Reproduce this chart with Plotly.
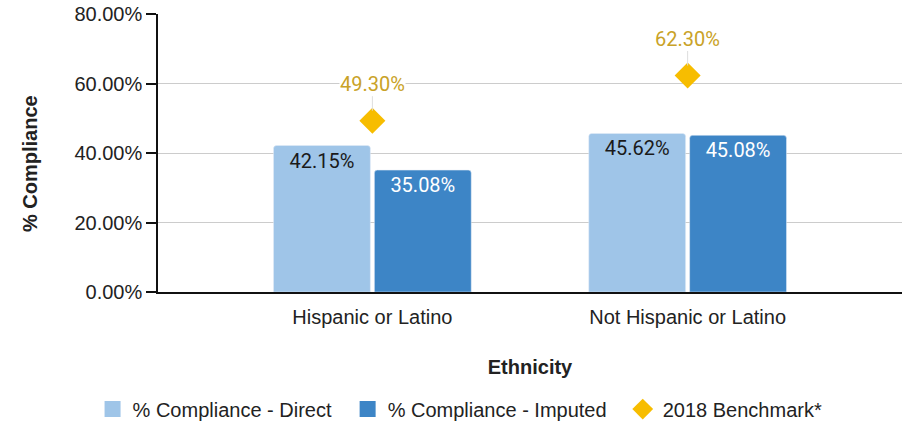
import plotly.graph_objects as go

categories = ["Hispanic or Latino", "Not Hispanic or Latino"]
direct = [42.15, 45.62]
imputed = [35.08, 45.08]
benchmark = [49.30, 62.30]
y_ticks = [0, 20, 40, 60, 80]

C_DIRECT = "#9fc5e8"
C_IMPUTED = "#3d85c6"
C_BENCH = "#f7bd00"
C_BENCH_TXT = "#c9a227"
FS = 20

fig = go.Figure()
fig.add_trace(go.Bar(
    x=categories, y=direct, name="% Compliance - Direct", showlegend=False,
    marker=dict(color=C_DIRECT, cornerradius=3),
    text=[f"{v:.2f}%" for v in direct], textposition="inside",
    insidetextanchor="end", textangle=0,
    textfont=dict(color="#1a1a1a", size=FS, family="Roboto"),
))
fig.add_trace(go.Bar(
    x=categories, y=imputed, name="% Compliance - Imputed", showlegend=False,
    marker=dict(color=C_IMPUTED, cornerradius=3),
    text=[f"{v:.2f}%" for v in imputed], textposition="inside",
    insidetextanchor="end", textangle=0,
    textfont=dict(color="white", size=FS, family="Roboto"),
))
# legend entries with larger square swatches
fig.add_trace(go.Scatter(
    x=[None], y=[None], name="% Compliance - Direct\u00a0\u00a0", mode="markers",
    marker=dict(symbol="square", size=16, color=C_DIRECT),
))
fig.add_trace(go.Scatter(
    x=[None], y=[None], name="% Compliance - Imputed\u00a0\u00a0", mode="markers",
    marker=dict(symbol="square", size=16, color=C_IMPUTED),
))
fig.add_trace(go.Scatter(
    x=categories, y=benchmark, name="2018 Benchmark*", mode="markers",
    marker=dict(symbol="diamond", size=20, color=C_BENCH),
))
for c, v in zip(categories, benchmark):
    fig.add_annotation(
        x=c, y=v, text=f"{v:.2f}%", showarrow=True, arrowhead=0,
        arrowcolor="#dddddd", arrowwidth=1, ax=0, ay=-37, standoff=10,
        font=dict(color=C_BENCH_TXT, size=FS, family="Roboto"),
        bgcolor="white", borderpad=0,
    )

# y-axis title as annotation (sits slightly below plot centre in the reference)
fig.add_annotation(
    text="<b>% Compliance</b>", xref="paper", yref="paper", x=0, y=0.5,
    xshift=-128, yshift=-11, textangle=-90, showarrow=False,
    xanchor="center", yanchor="middle", font=dict(size=FS, color="#222"),
)

fig.update_layout(
    width=908, height=423, barmode="group", bargap=0.36, bargroupgap=0.04,
    margin=dict(l=158, r=6, t=14, b=131, autoexpand=False),
    plot_bgcolor="white", paper_bgcolor="white",
    font=dict(family="Liberation Sans, Arial", size=FS, color="#222"),
    legend=dict(orientation="h", x=0.406, xanchor="center", y=-0.421, yanchor="middle",
                font=dict(size=FS), tracegroupgap=0, itemsizing="trace"),
    showlegend=True,
)
fig.update_xaxes(
    range=[-0.68, 1.68], showline=True, linecolor="#111", linewidth=1.5,
    ticks="outside", ticklen=6, tickcolor="rgba(0,0,0,0)", showgrid=False,
    automargin=False,
    title=dict(text="<b>Ethnicity</b>", standoff=33, font=dict(size=FS)),
    tickfont=dict(size=FS),
)
fig.update_yaxes(
    range=[0, 80], tickvals=y_ticks, ticktext=[f"{v:.2f}%" for v in y_ticks],
    showline=True, linecolor="#111", linewidth=1.5,
    ticks="outside", ticklen=10, tickcolor="#111", tickwidth=1.5,
    showgrid=True, gridcolor="#cccccc", gridwidth=1, zeroline=False,
    automargin=False,
    tickfont=dict(size=FS),
)

fig.write_html("out.html")
